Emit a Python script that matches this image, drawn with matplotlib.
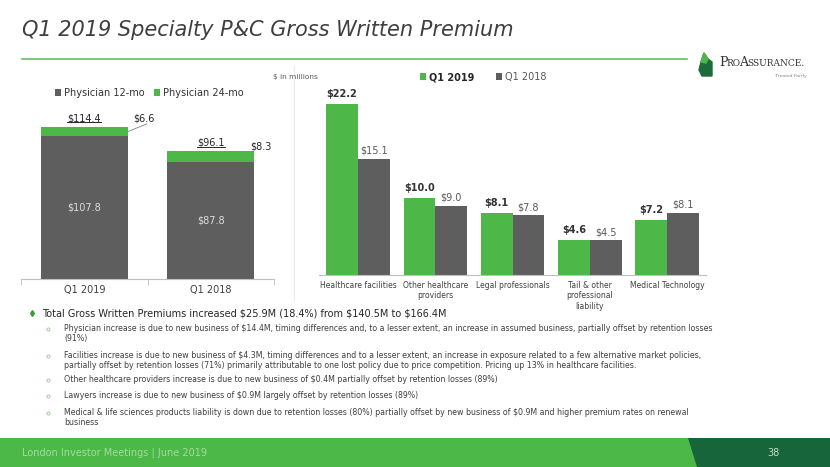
import matplotlib
matplotlib.use("Agg")
import matplotlib.pyplot as plt
from matplotlib.patches import Rectangle, Polygon
import numpy as np

# ---- data ($ in millions) ----
phys_cats = ['Q1 2019', 'Q1 2018']
phys_12mo = [107.8, 87.8]
phys_24mo = [6.6, 8.3]
phys_total = [114.4, 96.1]

line_cats = ['Healthcare facilities', 'Other healthcare\nproviders', 'Legal professionals',
             'Tail & other\nprofessional\nliability', 'Medical Technology']
gwp_2019 = [22.2, 10.0, 8.1, 4.6, 7.2]
gwp_2018 = [15.1, 9.0, 7.8, 4.5, 8.1]

title = 'Q1 2019 Specialty P&C Gross Written Premium'
main_bullet = 'Total Gross Written Premiums increased $25.9M (18.4%) from $140.5M to $166.4M'
sub_bullets = [
    'Physician increase is due to new business of $14.4M, timing differences and, to a lesser extent, an increase in assumed business, partially offset by retention losses\n(91%)',
    'Facilities increase is due to new business of $4.3M, timing differences and to a lesser extent, an increase in exposure related to a few alternative market policies,\npartially offset by retention losses (71%) primarily attributable to one lost policy due to price competition. Pricing up 13% in healthcare facilities.',
    'Other healthcare providers increase is due to new business of $0.4M partially offset by retention losses (89%)',
    'Lawyers increase is due to new business of $0.9M largely offset by retention losses (89%)',
    'Medical & life sciences products liability is down due to retention losses (80%) partially offset by new business of $0.9M and higher premium rates on renewal\nbusiness',
]
footer = 'London Investor Meetings | June 2019'
page_no = '38'

GREEN = '#4DB848'
DARK = '#5E5E5E'
TXT = '#404040'

W, H = 830, 467
fig = plt.figure(figsize=(W / 100, H / 100), dpi=100)

# background axes in pixel coordinates
bg = fig.add_axes([0, 0, 1, 1])
bg.set_xlim(0, W)
bg.set_ylim(H, 0)
bg.axis('off')


def px_axes(x0, x1, ytop, ybot):
    a = fig.add_axes([x0 / W, 1 - ybot / H, (x1 - x0) / W, (ybot - ytop) / H])
    a.patch.set_visible(False)
    return a


# title + rule
bg.text(22, 30, title, fontsize=15, style='italic', color='#3F3F3F', va='center', ha='left')
bg.plot([22, 687], [59, 59], color='#62C060', lw=1.2)

# logo
bg.add_patch(Polygon([(701, 62), (704, 53), (708, 59), (712, 62), (712, 76), (702, 76), (699, 70)],
                     closed=True, color='#1E6B3A'))
bg.add_patch(Polygon([(701, 62), (704, 53), (708, 59), (706, 63)], closed=True, color='#4DB848'))
bg.text(719, 63, 'P', fontsize=9, family='DejaVu Serif', color='#333333', va='center')
bg.text(726.5, 64, 'RO', fontsize=6.5, family='DejaVu Serif', color='#333333', va='center')
bg.text(739.5, 63, 'A', fontsize=9, family='DejaVu Serif', color='#333333', va='center')
bg.text(747, 64, 'SSURANCE.', fontsize=6.5, family='DejaVu Serif', color='#333333', va='center')
bg.text(806, 76, 'Treated Fairly', fontsize=3.2, family='DejaVu Serif', style='italic',
        color='#777777', ha='right', va='center')

# faint separator between charts
bg.plot([294, 294], [66, 300], color='#EBEBEB', lw=0.8)

# ---- left chart: physician stacked bars ----
ax1 = px_axes(21, 274, 100, 279)
x1 = np.arange(len(phys_cats))
w1 = 0.69
b12 = ax1.bar(x1, phys_12mo, w1, color=DARK, label='Physician 12-mo')
b24 = ax1.bar(x1, phys_24mo, w1, bottom=phys_12mo, color=GREEN, label='Physician 24-mo')
ax1.set_xlim(-0.5, 1.5)
ax1.set_ylim(0, 134.9)
for s in ['top', 'right', 'left']:
    ax1.spines[s].set_visible(False)
ax1.spines['bottom'].set_color('#BFBFBF')
ax1.set_yticks([])
ax1.set_xticks(x1)
ax1.set_xticklabels(phys_cats, fontsize=7, color=TXT)
ax1.tick_params(axis='x', which='major', length=0, pad=4)
ax1.set_xticks([-0.5, 0.5, 1.5], minor=True)
ax1.tick_params(axis='x', which='minor', length=4, color='#BFBFBF')

total_texts = []
for i in range(len(phys_cats)):
    ax1.text(x1[i], phys_12mo[i] / 2, '$%.1f' % phys_12mo[i], ha='center', va='center',
             fontsize=7, color='#DCDCDC')
    t = ax1.text(x1[i], phys_total[i] + 6.7, '$%.1f' % phys_total[i],
                 ha='center', va='center', fontsize=7, color='#262626')
    total_texts.append(t)
# 24-mo labels
r0 = x1[0] + w1 / 2
ax1.plot([r0, r0 + 0.15], [phys_12mo[0] + phys_24mo[0] / 2, phys_total[0] + 2.5], color='#7F7F7F', lw=0.6)
ax1.text(r0 + 0.13, phys_total[0] + 6.9, '$%.1f' % phys_24mo[0], ha='center', va='center',
         fontsize=7, color='#262626')
ax1.text(x1[1] + w1 / 2 - 0.03, phys_total[1] + 4.0, '$%.1f' % phys_24mo[1], ha='left', va='center',
         fontsize=7, color='#262626')

leg1 = ax1.legend(handles=[b12, b24], ncol=2, frameon=False, fontsize=7,
                  handlelength=0.6, handleheight=0.6, handletextpad=0.3, columnspacing=1.0,
                  loc='center left', bbox_to_anchor=(55 / W, 1 - 93 / H),
                  bbox_transform=fig.transFigure, borderaxespad=0, borderpad=0)
for t in leg1.get_texts():
    t.set_color('#333333')

# ---- right chart: lines of business ----
ax2 = px_axes(319.3, 705.8, 90, 275)
x2 = np.arange(len(line_cats))
w2 = 0.41
c19 = ax2.bar(x2 - w2 / 2, gwp_2019, w2, color=GREEN, label='Q1 2019')
c18 = ax2.bar(x2 + w2 / 2, gwp_2018, w2, color=DARK, label='Q1 2018')
ax2.set_xlim(-0.5, len(line_cats) - 0.5)
ax2.set_ylim(0, 24.0)
for s in ['top', 'right', 'left']:
    ax2.spines[s].set_visible(False)
ax2.spines['bottom'].set_color('#BFBFBF')
ax2.set_yticks([])
ax2.set_xticks(x2)
ax2.set_xticklabels(line_cats, fontsize=5.5, color=TXT, linespacing=1.25, va='top')
ax2.tick_params(axis='x', length=0, pad=4)

for i in range(len(line_cats)):
    ax2.annotate('$%.1f' % gwp_2019[i], (x2[i] - w2 / 2, gwp_2019[i]), xytext=(0, 3.5),
                 textcoords='offset points', ha='center', va='bottom', fontsize=7,
                 fontweight='bold', color='#333333')
    ax2.annotate('$%.1f' % gwp_2018[i], (x2[i] + w2 / 2, gwp_2018[i]), xytext=(0, 2),
                 textcoords='offset points', ha='center', va='bottom', fontsize=7,
                 color='#595959')

leg2 = ax2.legend(handles=[c19, c18], ncol=2, frameon=False, fontsize=7,
                  handlelength=0.6, handleheight=0.6, handletextpad=0.3, columnspacing=2.3,
                  loc='center left', bbox_to_anchor=(420 / W, 1 - 77 / H),
                  bbox_transform=fig.transFigure, borderaxespad=0, borderpad=0)
leg2.get_texts()[0].set_fontweight('bold')
leg2.get_texts()[0].set_color('#262626')
leg2.get_texts()[1].set_color('#595959')

bg.text(318, 77, '$ in millions', fontsize=5.3, color='#595959', ha='right', va='center')

# ---- commentary ----
bg.plot([32], [313], marker='d', ms=3, color='#3A9A3A')
bg.text(42, 313, main_bullet, fontsize=7.0, color='#262626', va='center', ha='left',
        parse_math=False)
sub_y = [333.5, 360.5, 380, 395.5, 417.5]
for y, s in zip(sub_y, sub_bullets):
    first_line = y - 4.5 if '\n' in s else y
    bg.plot([48], [first_line], marker='o', ms=2.2, mfc='none', mec='#8CCB88', mew=0.6)
    bg.text(64, y, s, fontsize=5.65, color=TXT, va='center', ha='left', linespacing=1.15,
            parse_math=False)

# ---- footer ----
bg.add_patch(Rectangle((0, 438), W, H - 438, color='#4CB848', lw=0))
bg.add_patch(Polygon([(688, 438), (W, 438), (W, H), (697, H)], closed=True, color='#17653A', lw=0))
bg.text(22, 453, footer, fontsize=7.0, color='#A5DBA0', va='center', ha='left')
bg.text(773, 453, page_no, fontsize=7, color='#C9DCCB', va='center', ha='center')

# underline the physician totals
fig.canvas.draw()
inv = ax1.transData.inverted()
for t in total_texts:
    bb = t.get_window_extent()
    (xa, ya), (xb, yb) = inv.transform([(bb.x0, bb.y0 + 1), (bb.x1, bb.y0 + 1)])
    ax1.plot([xa, xb], [ya, yb], color='#262626', lw=0.7, clip_on=False)

fig.savefig('out.png', dpi=100)
